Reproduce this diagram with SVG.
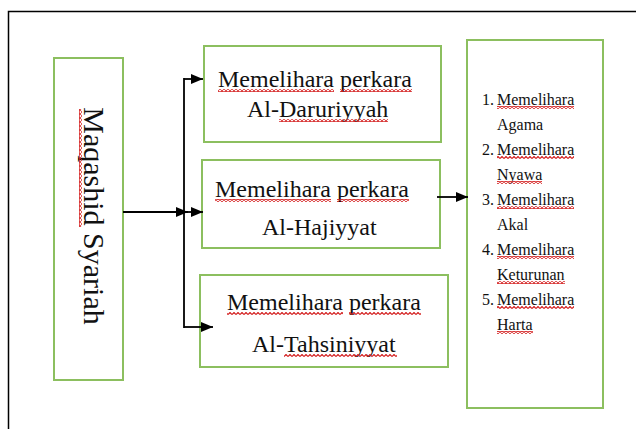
<svg xmlns="http://www.w3.org/2000/svg" width="636" height="429" viewBox="0 0 636 429">
<defs>
<style>
.box{fill:none;stroke:#8cbf5f;stroke-width:2}
.t{font-family:"Liberation Serif","Times New Roman",serif;fill:#111}
.big{font-size:24px}
.sm{font-size:16px}
.ln{stroke:#000;stroke-width:1.8;fill:none}
.sq{fill:url(#wave)}
</style>
<pattern id="wave" patternUnits="userSpaceOnUse" width="4" height="3">
<path d="M0 2.5 L2 0.5 L4 2.5" stroke="#d42020" stroke-width="1.2" fill="none"/>
</pattern>
<marker id="ah" markerWidth="12" markerHeight="10" refX="12" refY="5" orient="auto" markerUnits="userSpaceOnUse">
<path d="M0 0 L12 5 L0 10 Z" fill="#000"/>
</marker>
</defs>
<rect x="0" y="0" width="636" height="429" fill="#fff"/>
<path d="M8.5 429 V11.5 H636" stroke="#000" stroke-width="1.5" fill="none"/>

<g id="maqashid">
<rect class="box" x="54" y="58" width="69" height="322"/>
<g transform="translate(84,216) rotate(90)">
<text class="t" x="0" y="0" font-size="30" text-anchor="middle">Maqashid Syariah</text>
<rect class="sq" x="-107" y="2" width="118" height="3"/>
</g>
</g>

<g id="daruriyyah">
<rect class="box" x="204" y="46" width="237" height="96"/>
<text class="t big" x="218" y="87">Memelihara perkara</text>
<text class="t big" x="247" y="117">Al-Daruriyyah</text>
<rect class="sq" x="218" y="89" width="116" height="3"/>
<rect class="sq" x="340" y="89" width="72" height="3"/>
<rect class="sq" x="279" y="119" width="109" height="3"/>
</g>

<g id="hajiyyat">
<rect class="box" x="202" y="160" width="238" height="88"/>
<text class="t big" x="215" y="197">Memelihara perkara</text>
<text class="t big" x="262" y="235">Al-Hajiyyat</text>
<rect class="sq" x="215" y="199" width="116" height="3"/>
<rect class="sq" x="337" y="199" width="72" height="3"/>
</g>

<g id="tahsiniyyat">
<rect class="box" x="200" y="275" width="248" height="92"/>
<text class="t big" x="227" y="310">Memelihara perkara</text>
<text class="t big" x="252" y="352">Al-Tahsiniyyat</text>
<rect class="sq" x="227" y="312" width="116" height="3"/>
<rect class="sq" x="349" y="312" width="72" height="3"/>
<rect class="sq" x="284" y="354" width="113" height="3"/>
</g>

<g id="list">
<rect class="box" x="467" y="40" width="136" height="368"/>
<g class="t sm">
<text x="482" y="105">1.</text><text x="497" y="105">Memelihara</text>
<text x="497" y="130">Agama</text>
<text x="482" y="155">2.</text><text x="497" y="155">Memelihara</text>
<text x="497" y="180">Nyawa</text>
<text x="482" y="205">3.</text><text x="497" y="205">Memelihara</text>
<text x="497" y="230">Akal</text>
<text x="482" y="255">4.</text><text x="497" y="255">Memelihara</text>
<text x="497" y="280">Keturunan</text>
<text x="482" y="305">5.</text><text x="497" y="305">Memelihara</text>
<text x="497" y="330">Harta</text>
</g>
<rect class="sq" x="497" y="106" width="77" height="3"/>
<rect class="sq" x="497" y="156" width="77" height="3"/>
<rect class="sq" x="497" y="181" width="45" height="3"/>
<rect class="sq" x="497" y="206" width="77" height="3"/>
<rect class="sq" x="497" y="256" width="77" height="3"/>
<rect class="sq" x="497" y="281" width="68" height="3"/>
<rect class="sq" x="497" y="306" width="77" height="3"/>
<rect class="sq" x="497" y="331" width="36" height="3"/>
</g>

<g id="connectors">
<line class="ln" x1="184" y1="78" x2="184" y2="328"/>
<line class="ln" x1="123" y1="212" x2="188" y2="212" marker-end="url(#ah)"/>
<line class="ln" x1="188" y1="212" x2="203" y2="212" marker-end="url(#ah)"/>
<line class="ln" x1="184" y1="79" x2="203" y2="79" marker-end="url(#ah)"/>
<line class="ln" x1="184" y1="327" x2="213" y2="327" marker-end="url(#ah)"/>
<line class="ln" x1="437" y1="197" x2="468" y2="197" marker-end="url(#ah)"/>
</g>
</svg>
